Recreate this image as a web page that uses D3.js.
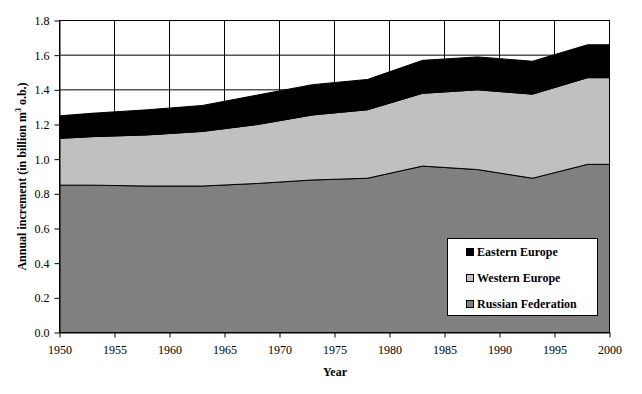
<!DOCTYPE html>
<html>
<head>
<meta charset="utf-8">
<script src="https://cdn.jsdelivr.net/npm/d3@7"></script>
<style>
  body { margin: 0; background: #fff; }
  svg text { font-family: "Liberation Serif", "Times New Roman", serif; }
</style>
</head>
<body>
<svg id="chart" width="642" height="394"></svg>
<script>
// data
var years = [1950, 1953, 1958, 1963, 1968, 1973, 1978, 1983, 1988, 1993, 1998, 2000];
var russianFederation = [0.85, 0.85, 0.845, 0.845, 0.86, 0.88, 0.89, 0.96, 0.94, 0.89, 0.97, 0.97];
var westernEurope = [0.27, 0.28, 0.295, 0.315, 0.34, 0.375, 0.395, 0.42, 0.46, 0.485, 0.50, 0.50];
var easternEurope = [0.13, 0.135, 0.145, 0.15, 0.17, 0.175, 0.175, 0.19, 0.19, 0.19, 0.19, 0.19];
var seriesNames = ["Russian Federation", "Western Europe", "Eastern Europe"];
var seriesColors = ["#808080", "#c0c0c0", "#000000"];
var xTicks = [1950, 1955, 1960, 1965, 1970, 1975, 1980, 1985, 1990, 1995, 2000];
var yTicks = [0, 0.2, 0.4, 0.6, 0.8, 1.0, 1.2, 1.4, 1.6, 1.8];

function drawChart() {
  var svg = d3.select("#chart");
  var pLeft = 59.5, pRight = 609.5, pTop = 20.5, pBottom = 332.5;

  var x = d3.scaleLinear().domain([1950, 2000]).range([pLeft, pRight]);
  var y = d3.scaleLinear().domain([0, 1.8]).range([pBottom, pTop]);

  var rows = years.map(function(yr, i) {
    return {
      year: yr,
      "Russian Federation": russianFederation[i],
      "Western Europe": westernEurope[i],
      "Eastern Europe": easternEurope[i]
    };
  });

  var layers = d3.stack().keys(seriesNames)(rows);
  var color = d3.scaleOrdinal().domain(seriesNames).range(seriesColors);

  // gridlines
  var grid = svg.append("g");
  grid.selectAll("line.h")
    .data(yTicks)
    .enter().append("line")
    .attr("class", "h")
    .attr("x1", pLeft).attr("x2", pRight)
    .attr("y1", function(d) { return y(d); })
    .attr("y2", function(d) { return y(d); })
    .attr("stroke", "#000");
  grid.selectAll("line.v")
    .data(xTicks)
    .enter().append("line")
    .attr("class", "v")
    .attr("y1", pTop).attr("y2", pBottom)
    .attr("x1", function(d) { return x(d); })
    .attr("x2", function(d) { return x(d); })
    .attr("stroke", "#000");

  var area = d3.area()
    .x(function(d) { return x(d.data.year); })
    .y0(function(d) { return y(d[0]); })
    .y1(function(d) { return y(d[1]); });

  svg.append("g").selectAll("path")
    .data(layers)
    .enter().append("path")
    .attr("d", area)
    .attr("fill", function(d) { return color(d.key); })
    .attr("stroke", "#000")
    .attr("stroke-width", 1);

  // plot frame
  svg.append("rect")
    .attr("x", pLeft).attr("y", pTop)
    .attr("width", pRight - pLeft).attr("height", pBottom - pTop)
    .attr("fill", "none").attr("stroke", "#000");

  // axes
  var xAxis = svg.append("g")
    .attr("transform", "translate(0," + pBottom + ")")
    .call(d3.axisBottom(x).tickValues(xTicks).tickFormat(d3.format("d")).tickSize(5).tickSizeOuter(0).tickPadding(8));
  var yAxis = svg.append("g")
    .attr("transform", "translate(" + pLeft + ",0)")
    .call(d3.axisLeft(y).tickValues(yTicks).tickFormat(d3.format(".1f")).tickSize(5).tickSizeOuter(0).tickPadding(5));

  [xAxis, yAxis].forEach(function(a) {
    a.select(".domain").attr("stroke", "#000");
    a.selectAll(".tick line").attr("stroke", "#000");
    a.selectAll(".tick text")
      .attr("fill", "#000")
      .style("font-family", "'Liberation Serif', 'Times New Roman', serif")
      .style("font-size", "12px");
  });

  // axis titles
  svg.append("text")
    .attr("x", 335).attr("y", 376)
    .attr("text-anchor", "middle")
    .style("font-size", "12px")
    .style("font-weight", "bold")
    .text("Year");

  var yTitle = svg.append("text")
    .attr("transform", "translate(26," + ((pTop + pBottom) / 2) + ") rotate(-90)")
    .attr("text-anchor", "middle")
    .style("font-size", "12px")
    .style("font-weight", "bold");
  yTitle.append("tspan").text("Annual increment (in billion m");
  yTitle.append("tspan").attr("dy", -5).style("font-size", "8px").text("3");
  yTitle.append("tspan").attr("dy", 5).text(" o.b.)");

  // legend
  var legend = svg.append("g");
  legend.append("rect")
    .attr("x", 447.5).attr("y", 238.5)
    .attr("width", 150).attr("height", 77)
    .attr("fill", "#fff").attr("stroke", "#000");

  var legendItems = seriesNames.slice().reverse();
  var li = legend.selectAll("g.item")
    .data(legendItems)
    .enter().append("g")
    .attr("class", "item")
    .attr("transform", function(d, i) { return "translate(466," + (252 + i * 26) + ")"; });
  li.append("rect")
    .attr("x", 0.5).attr("y", -3.5)
    .attr("width", 7).attr("height", 7)
    .attr("fill", function(d) { return color(d); })
    .attr("stroke", "#000");
  li.append("text")
    .attr("x", 11).attr("y", 4)
    .style("font-size", "12px")
    .style("font-weight", "bold")
    .text(function(d) { return d; });
}

drawChart();
</script>
</body>
</html>
